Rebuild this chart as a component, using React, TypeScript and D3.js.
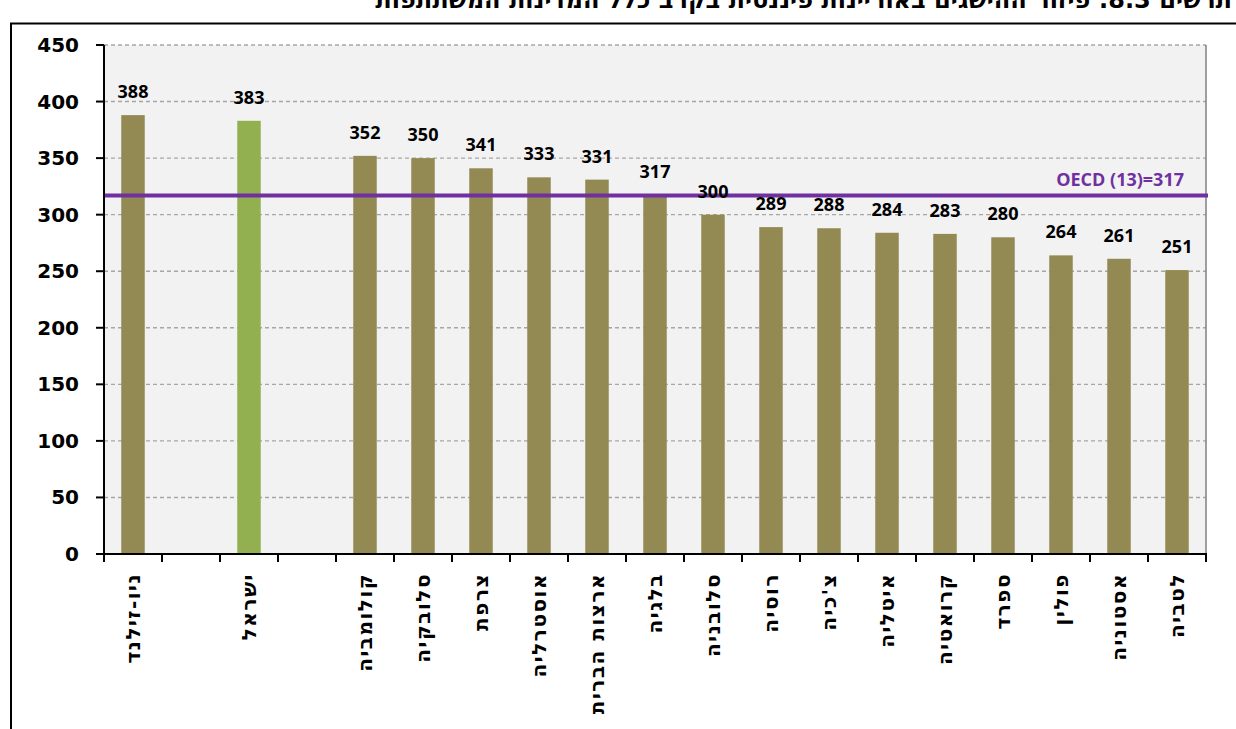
import React from "react";
import * as d3 from "d3";

const categories = ["ניו-זילנד", "", "ישראל", "", "קולומביה", "סלובקיה", "צרפת", "אוסטרליה", "ארצות הברית", "בלגיה", "סלובניה", "רוסיה", "צ'כיה", "איטליה", "קרואטיה", "ספרד", "פולין", "אסטוניה", "לטביה"];
const values: (number | null)[] = [388, null, 383, null, 352, 350, 341, 333, 331, 317, 300, 289, 288, 284, 283, 280, 264, 261, 251];
const highlight = "ישראל";
const oecdValue = 317;
const oecdLabel = "OECD (13)=317";
const yTicks = [0, 50, 100, 150, 200, 250, 300, 350, 400, 450];
const title = "תרשים 8.3: פיזור ההישגים באוריינות פיננסית בקרב כלל המדינות המשתתפות";

export default function App() {
  const W = 1236, H = 729;
  const left = 104, right = 1206, top = 45, bottom = 554;
  const keys = categories.map((_, i) => String(i));
  const x = d3.scaleBand<string>().domain(keys).range([left, right]).paddingInner(0.595).paddingOuter(0.2975);
  const y = d3.scaleLinear().domain([0, 450]).range([bottom, top]);
  const step = x.step();
  const num = "'Open Sans', sans-serif";
  const heb = "'DejaVu Sans', sans-serif";
  return (
    <svg width={W} height={H} style={{ position: "absolute", left: 0, top: 0, background: "#fff" }}>
      <text x={1232} y={8} textAnchor="start" direction="rtl" fontFamily={heb} fontWeight="bold" fontSize={24} fill="#000">{title}</text>
      <line x1={10} x2={W} y1={23.5} y2={23.5} stroke="#000" strokeWidth={2} />
      <line x1={11} x2={11} y1={23} y2={H} stroke="#000" strokeWidth={2} />
      <rect x={left} y={top} width={right - left} height={bottom - top} fill="#F2F2F2" />
      {yTicks.filter(t => t > 0).map(t => (
        <line key={t} x1={left} x2={right} y1={y(t)} y2={y(t)} stroke="#A6A6A6" strokeWidth={1.4} strokeDasharray="4,3" />
      ))}
      <line x1={right} x2={right} y1={top} y2={bottom} stroke="#808080" strokeWidth={1.5} />
      {values.map((v, i) => v == null ? null : (
        <rect key={i} x={x(String(i))} y={y(v)} width={x.bandwidth()} height={bottom - y(v)}
          fill={categories[i] === highlight ? "#92B050" : "#938953"} />
      ))}
      <line x1={left} x2={right + 2} y1={y(oecdValue)} y2={y(oecdValue)} stroke="#7030A0" strokeWidth={4} />
      <text x={1184} y={y(oecdValue) - 9} textAnchor="end" fontFamily={num} fontWeight="bold" fontSize={18} fill="#7030A0">{oecdLabel}</text>
      {values.map((v, i) => v == null ? null : (
        <text key={i} x={(x(String(i)) as number) + x.bandwidth() / 2} y={y(v) - 17} textAnchor="middle"
          fontFamily={num} fontWeight="bold" fontSize={18} fill="#000">{v}</text>
      ))}
      <line x1={left} x2={left} y1={top} y2={bottom + 1} stroke="#000" strokeWidth={2} />
      {yTicks.map(t => (
        <g key={t}>
          <line x1={96} x2={left} y1={y(t)} y2={y(t)} stroke="#000" strokeWidth={2} />
          <text x={79} y={y(t) + 7} textAnchor="end" fontFamily={heb} fontWeight="bold" fontSize={20} fill="#000">{t}</text>
        </g>
      ))}
      <line x1={left - 1} x2={right + 1} y1={bottom} y2={bottom} stroke="#000" strokeWidth={2} />
      {d3.range(categories.length + 1).map(i => (
        <line key={i} x1={left + i * step} x2={left + i * step} y1={bottom} y2={bottom + 8} stroke="#000" strokeWidth={2} />
      ))}
      {categories.map((c, i) => c === "" ? null : (
        <text key={i} transform={`translate(${(x(String(i)) as number) + x.bandwidth() / 2 + 7},573) rotate(-90)`}
          textAnchor="start" direction="rtl" fontFamily={heb} fontWeight="bold" fontSize={20} letterSpacing={1.5} fill="#000">{c}</text>
      ))}
    </svg>
  );
}
